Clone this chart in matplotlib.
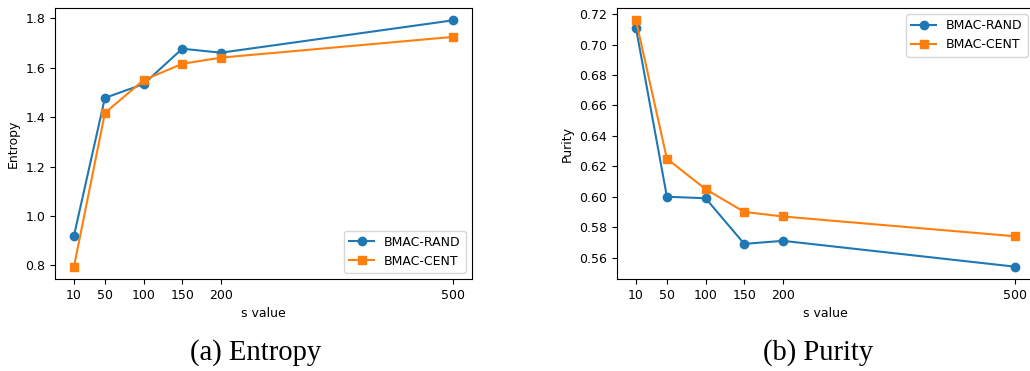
import matplotlib.pyplot as plt

# data
s_values = [10, 50, 100, 150, 200, 500]
entropy_rand = [0.920, 1.478, 1.534, 1.677, 1.661, 1.792]
entropy_cent = [0.795, 1.417, 1.550, 1.616, 1.641, 1.725]
purity_rand = [0.711, 0.600, 0.599, 0.569, 0.571, 0.554]
purity_cent = [0.716, 0.625, 0.605, 0.590, 0.587, 0.574]

plt.rcParams['font.size'] = 9

fig = plt.figure(figsize=(10.30, 3.71), dpi=100)
ax1 = fig.add_axes([55 / 1030, 92 / 371, 417 / 1030, 271 / 371])
ax2 = fig.add_axes([617 / 1030, 92 / 371, 417 / 1030, 271 / 371])

# 左图: Entropy
ax1.plot(s_values, entropy_rand, marker='o', label='BMAC-RAND')
ax1.plot(s_values, entropy_cent, marker='s', label='BMAC-CENT')
ax1.set_xticks(s_values)
ax1.set_xlabel('s value')
ax1.set_ylabel('Entropy')
ax1.legend(loc='lower right')

# 右图: Purity
ax2.plot(s_values, purity_rand, marker='o', label='BMAC-RAND')
ax2.plot(s_values, purity_cent, marker='s', label='BMAC-CENT')
ax2.set_xticks(s_values)
ax2.set_xlabel('s value')
ax2.set_ylabel('Purity')
ax2.legend(loc='upper right')

# 子图标题 (放在基线上)
fig.text(256 / 1030, 1 - 360 / 371, '(a) Entropy', family='Liberation Serif',
         fontsize=20.6, ha='center', va='baseline')
fig.text(818.5 / 1030, 1 - 360 / 371, '(b) Purity', family='Liberation Serif',
         fontsize=20.6, ha='center', va='baseline')

plt.savefig('out.png', dpi=100)
